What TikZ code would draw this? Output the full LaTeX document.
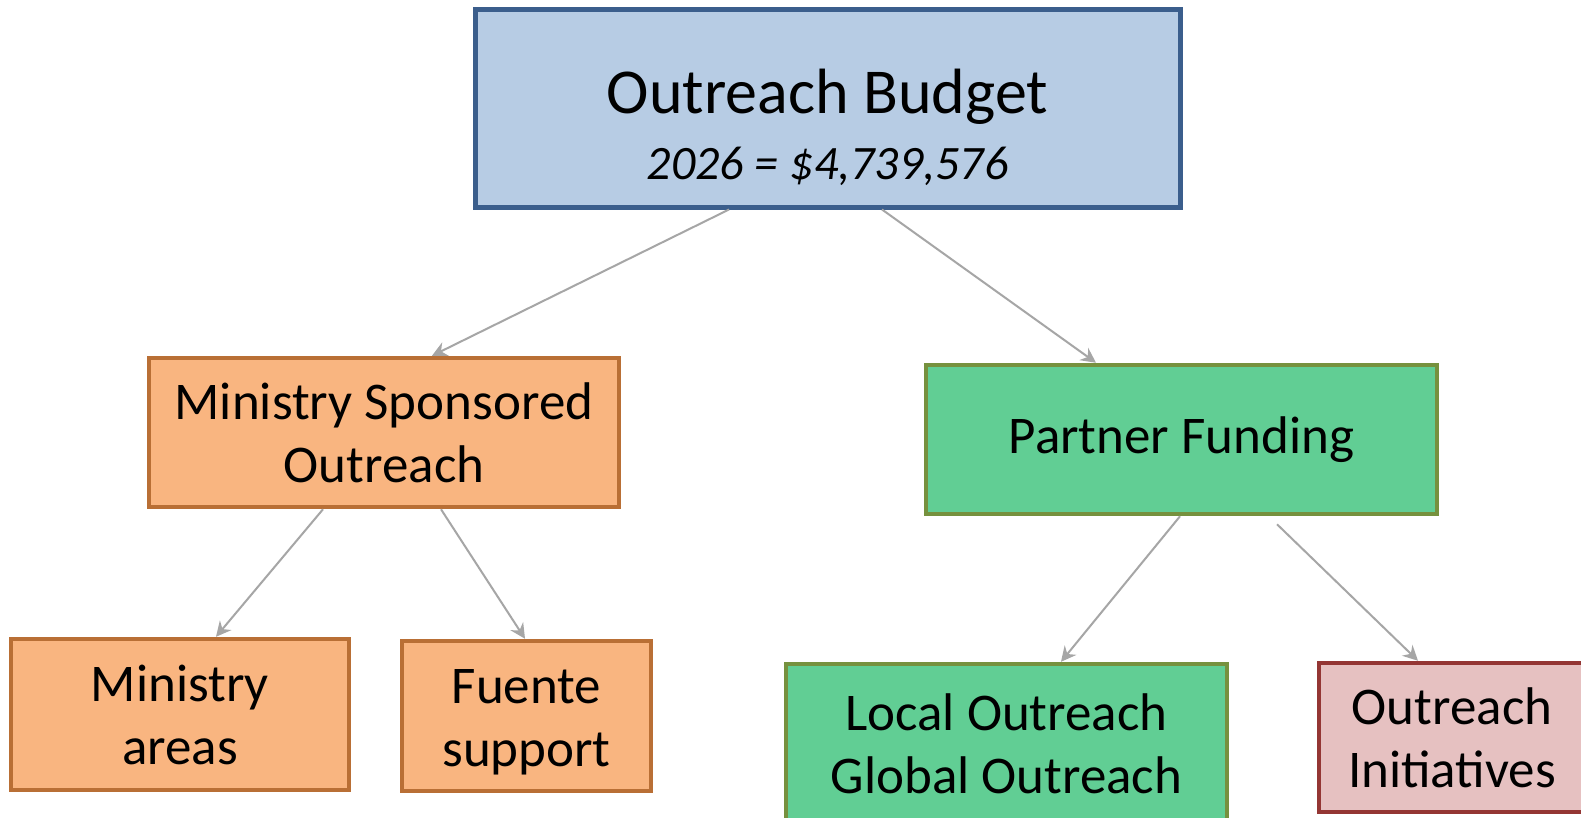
\documentclass[tikz,border=0pt]{standalone}
\usepackage{fontspec}
\setmainfont{Carlito}
\usetikzlibrary{arrows.meta}
\definecolor{topfill}{HTML}{B7CCE4}
\definecolor{topdraw}{HTML}{3B5E8C}
\definecolor{orfill}{HTML}{F9B580}
\definecolor{ordraw}{HTML}{B96F35}
\definecolor{grfill}{HTML}{61CE94}
\definecolor{grdraw}{HTML}{76913E}
\definecolor{pkfill}{HTML}{E6C1C1}
\definecolor{pkdraw}{HTML}{943634}
\definecolor{arrowgray}{HTML}{A6A6A6}
\begin{document}
\begin{tikzpicture}[x=1pt,y=-1pt,
  box/.style={draw, line width=4.5pt, rectangle, align=center, inner sep=0pt,
    font=\fontsize{53}{63}\selectfont, text=black},
  topbox/.style={box, fill=topfill, draw=topdraw, line width=5pt,
    font=\fontsize{64}{66}\selectfont},
  orbox/.style={box, fill=orfill, draw=ordraw},
  grbox/.style={box, fill=grfill, draw=grdraw},
  pkbox/.style={box, fill=pkfill, draw=pkdraw},
  conn/.style={draw=arrowgray, line width=2pt,
    -{Stealth[length=15pt,width=15pt,inset=5pt]}}]
\useasboundingbox (0,0) rectangle (1581,817);
\fill[white] (0,0) rectangle (1581,817);

\node[topbox, minimum width=705pt, minimum height=198pt] (top) at (827.5,108)
  {\rule{0pt}{84pt}Outreach Budget\\{\fontsize{48}{66}\selectfont\itshape 2026 = \$4,739,576}};

\node[orbox, minimum width=470pt, minimum height=149pt] (mso) at (384,432.5)
  {Ministry Sponsored\\Outreach};
\node[grbox, minimum width=511pt, minimum height=149pt] (pf) at (1181.5,439.5)
  {Partner Funding};

\node[orbox, minimum width=338pt, minimum height=151pt] (ma) at (180,714.5)
  {Ministry\\areas};
\node[orbox, minimum width=249pt, minimum height=150pt] (fs) at (526.5,716)
  {\rule{0pt}{46pt}Fuente\\support};
\node[grbox, minimum width=441pt, minimum height=160pt] (lg) at (1006.5,744)
  {Local Outreach\\Global Outreach};
\node[pkbox, minimum width=266pt, minimum height=149pt] (oi) at (1452,737.5)
  {Outreach\\Initiatives};

\draw[conn] ([xshift=-98.5pt]top.south) -- ([xshift=48pt]mso.north);
\draw[conn] ([xshift=54.5pt]top.south) -- ([xshift=-85.5pt]pf.north);
\draw[conn] ([xshift=-61pt]mso.south) -- ([xshift=36pt]ma.north);
\draw[conn] ([xshift=57pt]mso.south) -- ([xshift=-1.5pt]fs.north);
\draw[conn] ([xshift=-1.5pt]pf.south) -- ([xshift=54.5pt]lg.north);
\draw[conn] ([xshift=95.5pt,yshift=-8pt]pf.south) -- ([xshift=-34pt]oi.north);
\end{tikzpicture}
\end{document}
